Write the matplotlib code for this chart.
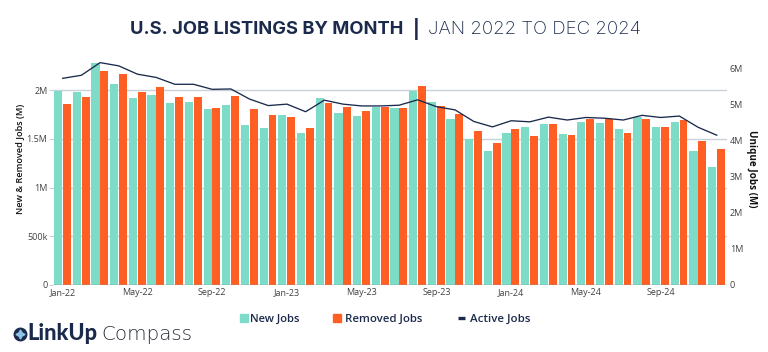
import matplotlib
matplotlib.use('Agg')
import matplotlib.pyplot as plt
import matplotlib.font_manager as fm
from matplotlib.lines import Line2D

# ---------------- data (millions) ----------------
months = ['Jan-22', 'Feb-22', 'Mar-22', 'Apr-22', 'May-22', 'Jun-22', 'Jul-22', 'Aug-22',
          'Sep-22', 'Oct-22', 'Nov-22', 'Dec-22', 'Jan-23', 'Feb-23', 'Mar-23', 'Apr-23',
          'May-23', 'Jun-23', 'Jul-23', 'Aug-23', 'Sep-23', 'Oct-23', 'Nov-23', 'Dec-23',
          'Jan-24', 'Feb-24', 'Mar-24', 'Apr-24', 'May-24', 'Jun-24', 'Jul-24', 'Aug-24',
          'Sep-24', 'Oct-24', 'Nov-24', 'Dec-24']
new_jobs = [1.996, 1.986, 2.284, 2.065, 1.924, 1.948, 1.870, 1.883, 1.808, 1.852, 1.647, 1.613,
            1.743, 1.558, 1.921, 1.767, 1.739, 1.832, 1.822, 1.996, 1.877, 1.702, 1.500, 1.380,
            1.566, 1.623, 1.654, 1.554, 1.671, 1.664, 1.599, 1.729, 1.626, 1.671, 1.373, 1.209]
removed_jobs = [1.856, 1.928, 2.195, 2.171, 1.986, 2.034, 1.935, 1.928, 1.818, 1.945, 1.805, 1.743,
                1.722, 1.609, 1.873, 1.832, 1.791, 1.832, 1.818, 2.044, 1.842, 1.757, 1.579, 1.455,
                1.599, 1.531, 1.651, 1.537, 1.705, 1.702, 1.561, 1.705, 1.626, 1.695, 1.476, 1.397]
active_jobs = [5.725, 5.81, 6.16, 6.07, 5.84, 5.75, 5.56, 5.56, 5.42, 5.43, 5.15, 4.97,
               5.01, 4.80, 5.12, 5.01, 4.96, 4.96, 4.98, 5.13, 4.94, 4.85, 4.53, 4.38,
               4.55, 4.52, 4.65, 4.57, 4.64, 4.62, 4.57, 4.70, 4.64, 4.68, 4.37, 4.15]

x_tick_labels = ['Jan-22', 'May-22', 'Sep-22', 'Jan-23', 'May-23', 'Sep-23', 'Jan-24', 'May-24', 'Sep-24']
left_ticks = [0, 0.5, 1, 1.5, 2]
left_tick_labels = ['0', '500k', '1M', '1.5M', '2M']
right_ticks = [0, 1, 2, 3, 4, 5, 6]
right_tick_labels = ['0', '1M', '2M', '3M', '4M', '5M', '6M']

TEAL = '#7DDCC8'
ORANGE = '#FF5F22'
NAVY = '#1B2A4C'
GRID = '#C9D1DB'
TICKC = '#404040'
FONT = 'Open Sans'

W, H = 768, 352
fig = plt.figure(figsize=(W / 100, H / 100), dpi=100)
fig.patch.set_facecolor('white')
renderer = fig.canvas.get_renderer()

WEIGHTS = {'ultralight': 200, 'light': 300, 'normal': 400, 'regular': 400, 'book': 400,
           'medium': 500, 'semibold': 600, 'demibold': 600, 'bold': 700, 'heavy': 800,
           'extra bold': 800, 'black': 900, 'thin': 100, 'hairline': 100}


def _w(f):
    w = f.weight
    if isinstance(w, str):
        w = WEIGHTS.get(w.lower(), 400)
    return int(w)


def pick_font(names, weight, tol=60):
    for n in names:
        cands = [f for f in fm.fontManager.ttflist if f.name == n and f.style == 'normal']
        if not cands:
            continue
        best = min(cands, key=lambda f: abs(_w(f) - weight))
        if abs(_w(best) - weight) <= tol:
            return fm.FontProperties(fname=best.fname)
    return fm.FontProperties(family='DejaVu Sans', weight=weight)


def fx(x):
    return x / W


def fy(y):
    return 1 - y / H


def fit_text(x, y, s, target_w, fp, size0, ha='left', va='baseline', color=NAVY, rotation=0,
             lo=0.8, hi=1.25):
    t = fig.text(fx(x), fy(y), s, ha=ha, va=va, color=color, rotation=rotation,
                 fontproperties=fp.copy())
    t.set_fontsize(size0)
    ext = t.get_window_extent(renderer)
    w = ext.height if rotation else ext.width
    k = max(lo, min(hi, target_w / w))
    t.set_fontsize(size0 * k)
    return t


# axes placement in pixels
L, R, T, B = 53, 727, 56, 285
ax = fig.add_axes([fx(L), fy(B), (R - L) / W, (B - T) / H])
ax2 = ax.twinx()

x = list(range(len(months)))
ax.bar([i - 0.245 for i in x], new_jobs, width=0.44, color=TEAL, zorder=2, linewidth=0)
ax.bar([i + 0.225 for i in x], removed_jobs, width=0.42, color=ORANGE, zorder=2, linewidth=0)
ax2.plot(x, active_jobs, color=NAVY, linewidth=0.95, zorder=3)

ax.set_xlim(-0.52, 35.55)
ax.set_ylim(0, (B - T) / 97.35)
ax2.set_ylim(0, (B - T) / 36.1)

ax.set_xticks([months.index(m) for m in x_tick_labels])
ax.set_xticklabels(x_tick_labels)
ax.set_yticks(left_ticks)
ax.set_yticklabels(left_tick_labels)
ax2.set_yticks(right_ticks)
ax2.set_yticklabels(right_tick_labels)

for a in (ax, ax2):
    for s in a.spines.values():
        s.set_visible(False)

ax.set_axisbelow(True)
ax.grid(axis='y', color=GRID, linewidth=1.0, zorder=0)
ax.axhline(0, color='#8E959E', linewidth=1.0, zorder=4)

ax.tick_params(axis='x', length=0, pad=2.5, labelsize=6.5, labelcolor=TICKC)
ax.tick_params(axis='y', length=3, width=0.8, color=GRID, pad=1, labelsize=6.5, labelcolor=TICKC)
ax2.tick_params(axis='y', length=0, pad=2, labelsize=6.5, labelcolor=TICKC)
for lab in ax.get_xticklabels() + ax.get_yticklabels() + ax2.get_yticklabels():
    lab.set_fontfamily(FONT)

# fonts
fp_title_b = pick_font(['Inter', 'Lato', 'Open Sans'], 700)
fp_title_l = pick_font(['Inter', 'Lato', 'Open Sans', 'Roboto'], 250, tol=60)
fp_semibold = pick_font(['Open Sans', 'Noto Sans', 'Lato'], 600, tol=110)
fp_medium = pick_font(['Open Sans', 'Noto Sans', 'Lato'], 500, tol=110)
fp_bold = pick_font(['Open Sans', 'Noto Sans', 'Lato'], 700)
fp_logo_b = pick_font(['Lato', 'Open Sans', 'Inter'], 900, tol=110)
fp_logo_l = pick_font(['DejaVu Sans', 'Open Sans', 'Lato', 'Roboto'], 250, tol=80)

# axis titles
fit_text(20.7, 159, 'New & Removed Jobs (M)', 110, fp_semibold, 6.5, ha='center', va='center',
         color='#111111', rotation=90)
fit_text(751, 168.5, 'Unique Jobs (M)', 77, fp_bold, 7.0, ha='center', va='center',
         color='#111111', rotation=-90)

# title
fit_text(403, 34.3, 'U.S. JOB LISTINGS BY MONTH', 273, fp_title_b, 12.8, ha='right')
fit_text(416, 36.0, '|', 3, fp_title_b, 12.8, ha='center', lo=1.0, hi=1.0)
fit_text(428, 34.3, 'JAN 2022 TO DEC 2024', 214, fp_title_l, 12.8, ha='left')

# legend (manual)
ly = 321.5
fig.add_artist(Line2D([fx(243.5)], [fy(317.5)], marker='s', markersize=5.2, color=TEAL,
                      transform=fig.transFigure, linestyle='none'))
fit_text(250, ly, 'New Jobs', 50, fp_semibold, 8.0)
fig.add_artist(Line2D([fx(336.5)], [fy(317.5)], marker='s', markersize=5.2, color=ORANGE,
                      transform=fig.transFigure, linestyle='none'))
fit_text(345, ly, 'Removed Jobs', 77, fp_semibold, 8.0)
fig.add_artist(Line2D([fx(458), fx(465)], [fy(317.5), fy(317.5)], color=NAVY, linewidth=2.4,
                      transform=fig.transFigure, solid_capstyle='butt'))
fit_text(470, ly, 'Active Jobs', 60, fp_semibold, 8.0)

# logo
fig.add_artist(Line2D([fx(20)], [fy(333.5)], marker='o', markersize=9, color=NAVY,
                      transform=fig.transFigure, linestyle='none'))
fig.add_artist(Line2D([fx(20)], [fy(333.5)], marker=(4, 1, 0), markersize=6.5, color='#8EC3E6',
                      transform=fig.transFigure, linestyle='none'))
fit_text(27, 339.5, 'LinkUp', 73, fp_logo_b, 12.5)
fit_text(101.5, 339.5, 'Compass', 91, fp_logo_l, 12.5, color='#2A2F3A')

fig.savefig('out.png', dpi=100, facecolor='white')
